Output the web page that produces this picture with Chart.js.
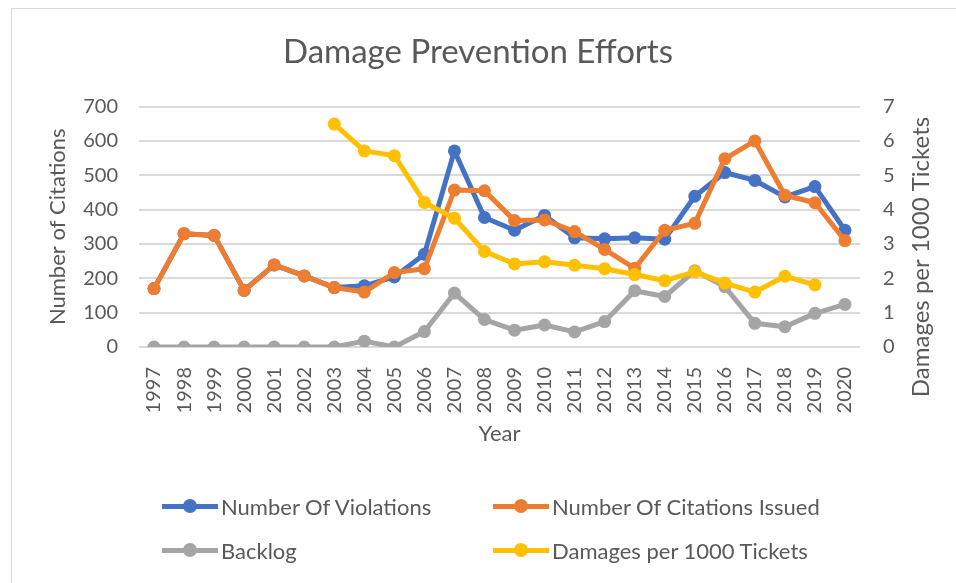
<!DOCTYPE html>
<html>
<head>
<meta charset="utf-8">
<script src="https://cdn.jsdelivr.net/npm/chart.js@4.4.0/dist/chart.umd.min.js"></script>
<style>
    body { margin: 0; background: #ffffff; }
    #wrap { position: relative; width: 956px; height: 583px; overflow: hidden; font-family: Lato, 'Liberation Sans', sans-serif; }
    #frame { position: absolute; left: 11px; top: 8px; width: 960px; height: 600px; border-left: 1px solid #d9d9d9; border-top: 1px solid #d9d9d9; }
    #damage-chart { position: absolute; left: 0; top: 0; }
    .legend-item { position: absolute; height: 24px; display: flex; align-items: center; color: #595959; font-size: 22px; white-space: nowrap; }
    .legend-line { position: relative; width: 56px; height: 5px; margin-right: 3px; }
    .legend-dot { position: absolute; left: 21px; top: -5px; width: 14px; height: 14px; border-radius: 50%; }
</style>
</head>
<body>
<div id="wrap">
    <div id="frame"></div>
    <canvas id="damage-chart" width="956" height="583"></canvas>
    <div id="damage-legend"></div>
</div>
<script>
// Dados do gráfico
const years = ['1997', '1998', '1999', '2000', '2001', '2002', '2003', '2004', '2005', '2006', '2007', '2008',
               '2009', '2010', '2011', '2012', '2013', '2014', '2015', '2016', '2017', '2018', '2019', '2020'];
const violations = [170, 330, 325, 165, 239, 207, 173, 178, 204, 270, 571, 377, 340, 383, 318, 315, 318, 314, 439, 508, 485, 437, 467, 340];
const citations = [170, 330, 325, 165, 239, 207, 173, 160, 217, 228, 457, 455, 368, 370, 336, 284, 229, 340, 360, 548, 600, 442, 420, 310];
const backlog = [0, 0, 0, 0, 0, 0, 0, 17, 0, 45, 157, 80, 49, 64, 44, 74, 164, 147, 222, 176, 69, 59, 98, 124];
const damages = [null, null, null, null, null, null, 6.49, 5.71, 5.57, 4.21, 3.75, 2.78, 2.42, 2.48, 2.38, 2.28, 2.11, 1.93, 2.19, 1.86, 1.60, 2.06, 1.81, null];
const leftTicks = [0, 700, 100];
const rightTicks = [0, 7, 1];

const COLORS = {
    violations: '#4472C4',
    citations: '#ED7D31',
    backlog: '#A5A5A5',
    damages: '#FFC000',
    text: '#595959',
    grid: '#d9d9d9'
};
const FONT = "Lato, 'Liberation Sans', sans-serif";

function lineSeries(label, data, color, axis, order) {
    return {
        label: label,
        data: data,
        yAxisID: axis,
        order: order,
        borderColor: color,
        backgroundColor: color,
        borderWidth: 5,
        borderJoinStyle: 'round',
        borderCapStyle: 'round',
        pointRadius: 6.5,
        pointBorderWidth: 0,
        pointBackgroundColor: color,
        tension: 0,
        spanGaps: false
    };
}

// título do eixo direito, lido de baixo para cima como no Excel
const rightTitlePlugin = {
    id: 'rightTitle',
    afterDraw(chart) {
        const ctx = chart.ctx;
        const area = chart.chartArea;
        ctx.save();
        ctx.translate(921, area.bottom - 90);
        ctx.rotate(-Math.PI / 2);
        ctx.fillStyle = COLORS.text;
        ctx.font = `24px ${FONT}`;
        ctx.textAlign = 'center';
        ctx.textBaseline = 'middle';
        ctx.fillText('Damages per 1000 Tickets', 0, 0);
        ctx.restore();
    }
};

const ctx = document.getElementById('damage-chart').getContext('2d');
new Chart(ctx, {
    type: 'line',
    data: {
        labels: years,
        datasets: [
            lineSeries('Number Of Violations', violations, COLORS.violations, 'y', 3),
            lineSeries('Number Of Citations Issued', citations, COLORS.citations, 'y', 2),
            lineSeries('Backlog', backlog, COLORS.backlog, 'y', 1),
            lineSeries('Damages per 1000 Tickets', damages, COLORS.damages, 'y1', 0)
        ]
    },
    options: {
        responsive: false,
        animation: false,
        layout: { padding: { top: 0, left: 0, right: 0, bottom: 136 } },
        plugins: {
            legend: { display: false },
            tooltip: { enabled: false },
            title: {
                display: true,
                text: 'Damage Prevention Efforts',
                color: COLORS.text,
                font: { family: FONT, size: 33, weight: 'normal' },
                padding: { top: 33, bottom: 34 }
            }
        },
        scales: {
            x: {
                offset: true,
                grid: { display: false },
                border: { display: false },
                ticks: {
                    color: COLORS.text,
                    font: { family: FONT, size: 20 },
                    minRotation: 90,
                    maxRotation: 90,
                    autoSkip: false,
                    padding: 12
                },
                title: {
                    display: true,
                    text: 'Year',
                    color: COLORS.text,
                    font: { family: FONT, size: 22 },
                    padding: 0
                },
                afterFit: (s) => { s.height = 100; }
            },
            y: {
                position: 'left',
                min: leftTicks[0],
                max: leftTicks[1],
                ticks: {
                    stepSize: leftTicks[2],
                    color: COLORS.text,
                    font: { family: FONT, size: 20 },
                    padding: 21
                },
                grid: { color: COLORS.grid, lineWidth: 2, drawTicks: false },
                border: { display: false },
                title: {
                    display: true,
                    text: 'Number of Citations',
                    color: COLORS.text,
                    font: { family: FONT, size: 22 },
                    padding: { top: 45, bottom: 0 }
                },
                afterFit: (s) => { s.width = 139; }
            },
            y1: {
                position: 'right',
                min: rightTicks[0],
                max: rightTicks[1],
                ticks: {
                    stepSize: rightTicks[2],
                    color: COLORS.text,
                    font: { family: FONT, size: 20 },
                    padding: 23
                },
                grid: { display: false, drawTicks: false },
                border: { display: false },
                afterFit: (s) => { s.width = 96; }
            }
        }
    },
    plugins: [rightTitlePlugin]
});

// legenda HTML em duas colunas
function createLegend(containerId, items) {
    const container = document.getElementById(containerId);
    container.innerHTML = '';
    items.forEach(item => {
        const el = document.createElement('div');
        el.className = 'legend-item';
        el.style.left = item.x + 'px';
        el.style.top = (item.y - 12) + 'px';
        el.innerHTML = `<span class="legend-line" style="background:${item.color}"><span class="legend-dot" style="background:${item.color}"></span></span><span>${item.label}</span>`;
        container.appendChild(el);
    });
}

createLegend('damage-legend', [
    { label: 'Number Of Violations', color: COLORS.violations, x: 162, y: 506 },
    { label: 'Number Of Citations Issued', color: COLORS.citations, x: 493, y: 506 },
    { label: 'Backlog', color: COLORS.backlog, x: 162, y: 550 },
    { label: 'Damages per 1000 Tickets', color: COLORS.damages, x: 493, y: 550 }
]);
</script>
</body>
</html>
